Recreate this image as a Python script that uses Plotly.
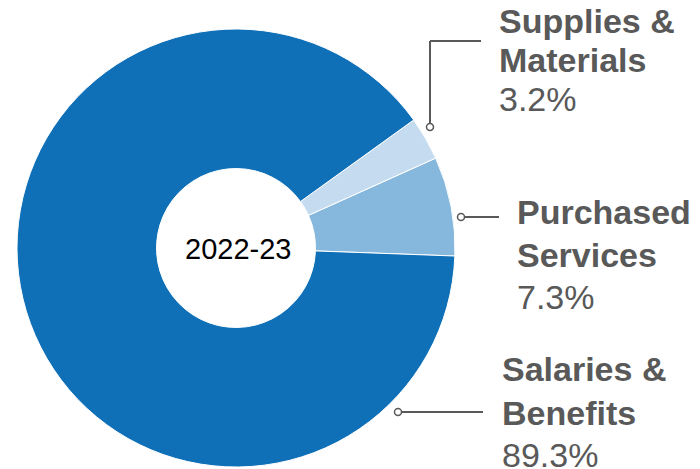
import plotly.graph_objects as go

# Data (counterclockwise from the right-hand side)
CATEGORIES = ["Purchased Services", "Supplies & Materials", "Salaries & Benefits"]
SHARES = [7.3, 3.2, 89.3]
COLORS = ["#86b8dd", "#c5dcf0", "#0f70b8"]
YEAR_LABEL = "2022-23"

# Label lines next to each slice
LABEL_LINES = {
    "Supplies & Materials": ["Supplies &", "Materials"],
    "Purchased Services": ["Purchased", "Services"],
    "Salaries & Benefits": ["Salaries &", "Benefits"],
}

# the page body has an 8px margin, so the figure is a bit smaller than the window
PAGE_OFF = 8
W, H = 700 - PAGE_OFF, 469 - PAGE_OFF
TEXT_GREY = "#595959"


def px(x):
    # window pixel -> paper x
    return (x - PAGE_OFF) / W


def py(y):
    # window pixel -> paper y
    return 1 - (y - PAGE_OFF) / H


# circle geometry in window pixels
CX, CY, R = 236, 248, 219
START_DEG = -2.1  # where the first slice starts, standard angle

fig = go.Figure()
fig.add_trace(
    go.Pie(
        labels=CATEGORIES,
        values=SHARES,
        marker=dict(colors=COLORS, line=dict(color="white", width=1)),
        hole=0.363,
        sort=False,
        direction="counterclockwise",
        # plotly puts the first counterclockwise slice ending at `rotation`
        rotation=90 - START_DEG - 360 * SHARES[0] / sum(SHARES),
        textinfo="none",
        hoverinfo="label+percent",
        showlegend=False,
        domain=dict(x=[px(CX - R), px(CX + R)], y=[py(CY + R), py(CY - R)]),
    )
)

# label block positions: left x, centre y of each line, leader line path (dot first)
LABEL_LAYOUT = {
    "Supplies & Materials": dict(x=497, ys=[21, 60, 99],
                                 path=[(430, 127), (430, 41), (481, 41)]),
    "Purchased Services": dict(x=515, ys=[212, 255, 297],
                               path=[(461, 217), (499, 217)]),
    "Salaries & Benefits": dict(x=500, ys=[369, 413, 455],
                                path=[(398, 412), (483, 412)]),
}

annotations = []
shapes = []
for cat, share in zip(CATEGORIES, SHARES):
    spec = LABEL_LAYOUT[cat]
    texts = [f"<b>{t}</b>" for t in LABEL_LINES[cat]] + [f"{share:.1f}%"]
    for t, yy in zip(texts, spec["ys"]):
        annotations.append(dict(
            text=t, x=px(spec["x"]), y=py(yy), xref="paper", yref="paper",
            xanchor="left", yanchor="middle", showarrow=False,
            font=dict(family="Liberation Sans, Arial, sans-serif", size=34, color=TEXT_GREY),
        ))
    pts = spec["path"]
    for (x0, y0), (x1, y1) in zip(pts[:-1], pts[1:]):
        shapes.append(dict(type="line", xref="paper", yref="paper",
                           x0=px(x0), y0=py(y0), x1=px(x1), y1=py(y1),
                           line=dict(color=TEXT_GREY, width=2)))
    dx, dy = pts[0]
    shapes.append(dict(type="circle", xref="paper", yref="paper",
                       x0=px(dx - 3.5), x1=px(dx + 3.5), y0=py(dy + 3.5), y1=py(dy - 3.5),
                       fillcolor="white", line=dict(color=TEXT_GREY, width=1.5)))

annotations.append(dict(
    text=YEAR_LABEL, x=px(CX + 2), y=py(CY + 1), xref="paper", yref="paper",
    xanchor="center", yanchor="middle", showarrow=False,
    font=dict(family="Liberation Sans, Arial, sans-serif", size=29, color="black"),
))

fig.update_layout(
    width=W, height=H,
    margin=dict(l=0, r=0, t=0, b=0),
    paper_bgcolor="white",
    plot_bgcolor="white",
    annotations=annotations,
    shapes=shapes,
)

fig.write_html("out.html")
